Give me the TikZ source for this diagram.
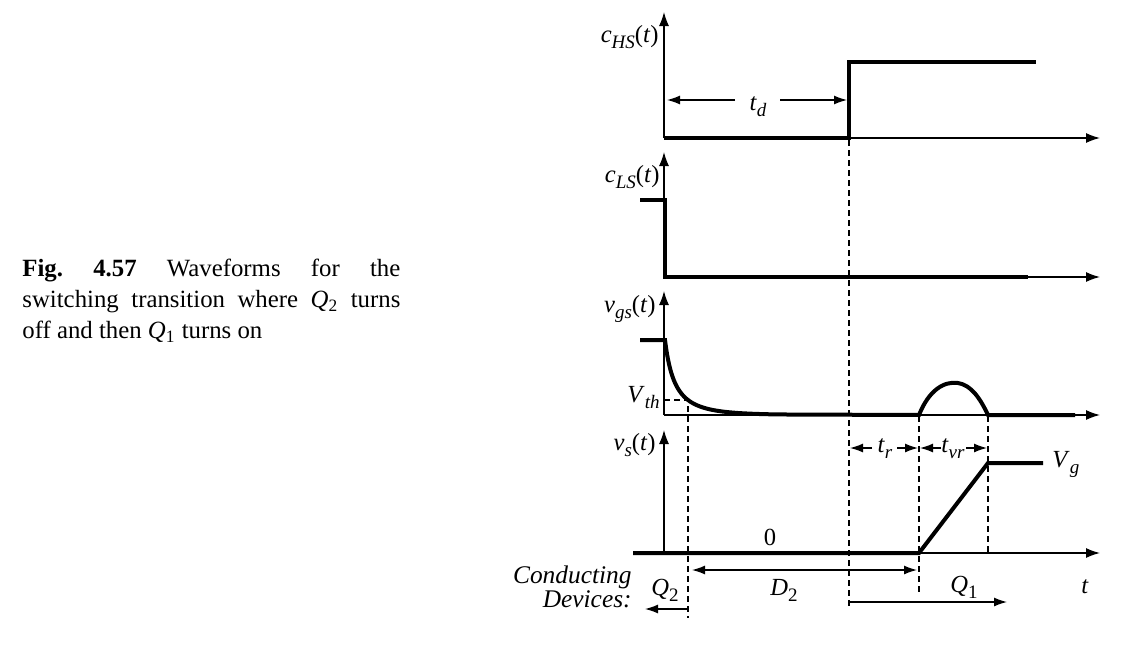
\documentclass[tikz,border=0pt]{standalone}
\usepackage{fontspec}
\setmainfont{Liberation Serif}
\usetikzlibrary{arrows.meta}
\newcommand{\isub}[2]{\textit{#1}\raisebox{-3pt}{\fontsize{9.5}{10}\selectfont\textit{#2}}}
\newcommand{\nsub}[2]{\textit{#1}\raisebox{-3pt}{\fontsize{9.5}{10}\selectfont #2}}
\begin{document}
\begin{tikzpicture}[x=0.5pt,y=-0.5pt,
  ax/.style={line width=0.65pt,-{Latex[length=7pt,width=5pt]}},
  wave/.style={line width=2pt, line join=miter},
  dsh/.style={line width=0.55pt, dash pattern=on 3pt off 2pt},
  dim/.style={line width=0.65pt,-{Latex[length=6.5pt,width=4.5pt]}},
  lbl/.style={inner sep=0pt, font=\fontsize{12.3}{13}\selectfont}]
\useasboundingbox (0,0) rectangle (1141,648);
% caption
\node[anchor=north west, inner sep=0pt, text width=189pt, align=justify,
  font=\fontsize{12.4}{15.5}\selectfont] (cap) at (22,259)
  {\textbf{Fig.\ 4.57} Waveforms for the\linebreak switching transition where \textit{Q}\textsubscript{2} turns\linebreak off and then \textit{Q}\textsubscript{1} turns on};
% axes
\coordinate (o1) at (664,138); \coordinate (o2) at (664,277);
\coordinate (o3) at (664,415); \coordinate (o4) at (664,553);
\draw[ax] (o1) -- (664,12);  \draw[ax] (o1) -- (1100,138);
\draw[ax] (o2) -- (664,152); \draw[ax] (o2) -- (1100,277);
\draw[ax] (o3) -- (664,291); \draw[ax] (o3) -- (1100,415);
\draw[ax] (o4) -- (664,430); \draw[ax] (o4) -- (1100,553);
% dashed guides
\draw[dsh] (849,140) -- (849,606);
\draw[dsh] (664,400) -- (688,400) -- (688,618);
\draw[dsh] (919,416) -- (919,594);
\draw[dsh] (988,416) -- (988,553);
% waveforms
\draw[wave] (664,138) -- (849,138) -- (849,62) -- (1036,62);
\draw[wave] (640,200) -- (665,200) -- (665,277) -- (1028,277);
\draw[wave] (640,340) -- (665,340) -- plot[domain=665:780,samples=120] (\x,{415-75*11.5/(\x-665+11.5)*exp(-(\x-665)/45)})
  -- (919,415) .. controls (929,390) and (944,381) .. (958,383)
  .. controls (971,385) and (980,398) .. (988,415) -- (1075,415);
\draw[wave] (633,553) -- (919,553) -- (988,463) -- (1043,463);
% dimension arrows
\draw[dim] (735,100) -- (667,100); \draw[dim] (780,100) -- (847,100);
\draw[dim] (872,448) -- (850,448); \draw[dim] (897,448) -- (918,448);
\draw[dim] (941,448) -- (920,448); \draw[dim] (966,448) -- (987,448);
\draw[dim,{Latex[length=6.5pt,width=4.5pt]}-{Latex[length=6.5pt,width=4.5pt]}] (692,570) -- (917,570);
\draw[dim] (688,609) -- (645,609);
\draw[dim] (849,602) -- (1007,602);
% labels
\node[lbl, anchor=base east] (lhs) at (659,42) {\isub{c}{HS}(\textit{t})};
\node[lbl, anchor=base east] (lls) at (660,182) {\isub{c}{LS}(\textit{t})};
\node[lbl, anchor=base east] (lgs) at (656,312) {\isub{v}{gs}(\textit{t})};
\node[lbl, anchor=base east] (lth) at (660,402) {\isub{V}{th}};
\node[lbl, anchor=base east] (lvs) at (656,450) {\isub{v}{s}(\textit{t})};
\node[lbl, anchor=base] (ltd) at (758,110) {\isub{t}{d}};
\node[lbl, anchor=base] (ltr) at (885,452) {\isub{t}{r}};
\node[lbl, anchor=base] (ltvr) at (953,452) {\isub{t}{vr}};
\node[lbl, anchor=base west] (lvg) at (1052,467) {\isub{V}{g}};
\node[lbl, anchor=base] (lzero) at (770,545) {0};
\node[lbl, anchor=base] (lt) at (1085,593) {\textit{t}};
\node[lbl, anchor=base] (lq1) at (964,592) {\nsub{Q}{1}};
\node[lbl, anchor=base] (lq2) at (665,595) {\nsub{Q}{2}};
\node[lbl, anchor=base] (ld2) at (784,595) {\nsub{D}{2}};
\node[lbl, anchor=base east, font=\fontsize{12.7}{14}\selectfont] (lcd) at (632,583) {\textit{Conducting}};
\node[lbl, anchor=base east, font=\fontsize{12.7}{14}\selectfont] (lcd2) at (632,607) {\textit{Devices:}};
\end{tikzpicture}
\end{document}
